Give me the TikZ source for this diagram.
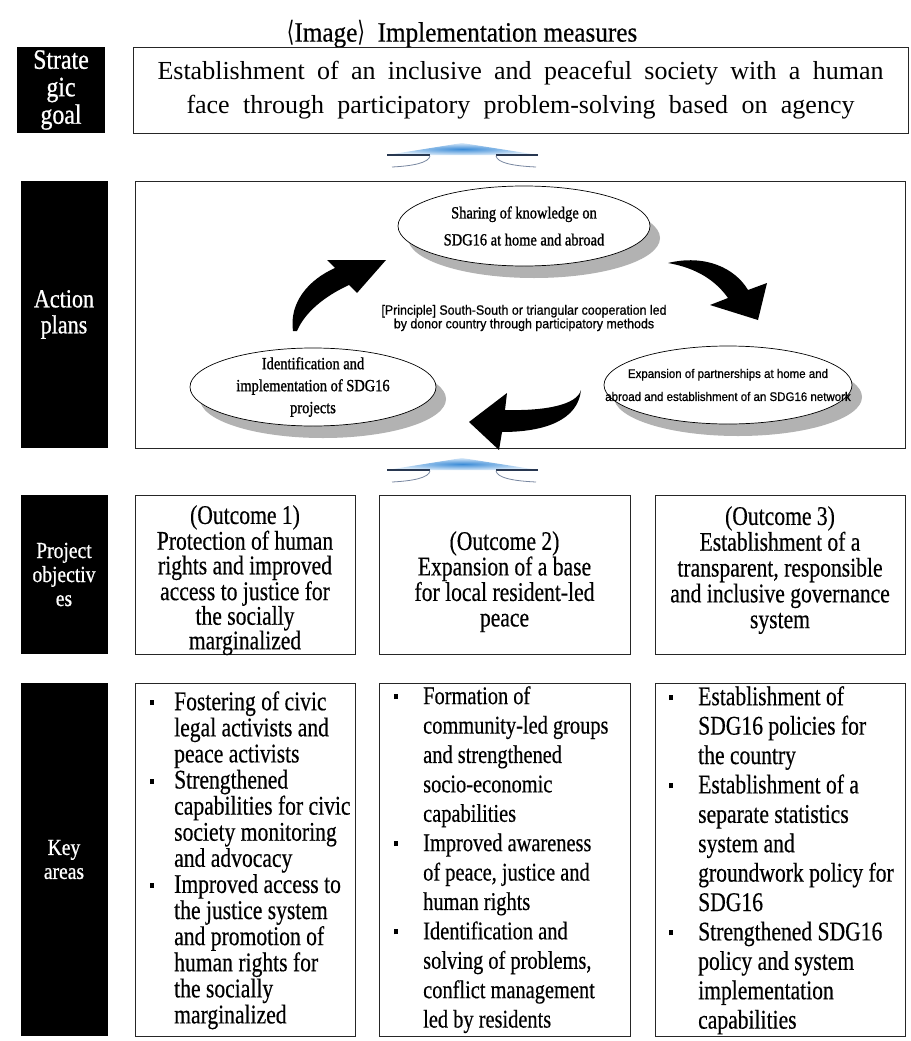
\documentclass[tikz,border=0pt]{standalone}
\usepackage{fontspec}
\setmainfont{Liberation Serif}
\newfontfamily\cond[FakeStretch=0.8,FakeBold=0.4]{Liberation Serif}
\newfontfamily\condt[FakeStretch=0.9,FakeBold=0.4]{Liberation Serif}
\newfontfamily\lblf[FakeStretch=0.85,FakeBold=0.8]{Liberation Serif}
\newfontfamily\condb[FakeStretch=0.85,FakeBold=1.2]{Liberation Serif}
\newfontfamily\sansb[FakeStretch=0.92,FakeBold=0.8]{Liberation Sans}
\newfontfamily\dvs[FakeStretch=0.7]{DejaVu Sans}
\usetikzlibrary{shapes.geometric}
\definecolor{cblue}{RGB}{60,140,215}
\definecolor{clight}{RGB}{215,232,248}
\definecolor{cdark}{RGB}{40,55,80}
\definecolor{ccurve}{RGB}{120,135,160}
\newcommand{\bul}{\makebox[24pt][l]{\rule[5pt]{4pt}{5pt}}}
\newcommand{\bulb}{\makebox[29pt][l]{\rule[5pt]{4pt}{5pt}}}
\newcommand{\indA}{\hspace*{24pt}}
\newcommand{\indB}{\hspace*{29pt}}
\begin{document}
\begin{tikzpicture}[x=1pt,y=-1pt,
  lbl/.style={fill=black,text=white,inner sep=0pt,align=center},
  frame/.style={draw=black!85,line width=0.9pt,fill=white,inner sep=0pt},
  ell/.style={ellipse,draw=black,line width=0.7pt,fill=white,inner sep=0pt},
  shad/.style={ellipse,fill=black!30,draw=none,inner sep=0pt},
  etxt/.style={inner sep=0pt,align=center},
  outc/.style={inner sep=0pt,align=center,anchor=north},
  keyt/.style={inner sep=0pt,align=left,anchor=north west,font=\cond\fontsize{27}{26.1}\selectfont},
  chev/.pic={
    \shade[inner color=cblue,outer color=clight] (0,0) -- (76,12) -- (-75,12) -- cycle;
    \draw[line width=1.8pt,cdark] (-75,12) -- (-32,12);
    \draw[line width=1.8pt,cdark] (34,12) -- (76,12);
    \draw[line width=0.8pt,ccurve] (-32,12.8) .. controls (-33,20) and (-50,23) .. (-70,24);
    \draw[line width=0.8pt,ccurve] (34,12.8) .. controls (35,20) and (52,23) .. (74,24);
  }]
\useasboundingbox[fill=white] (0,0) rectangle (910,1041);

% title
\node[inner sep=0pt,font=\condt\fontsize{28}{30}\selectfont] (title) at (462,34)
  {{\dvs ⟨}Image{\dvs ⟩}\ \ Implementation measures};

% left labels
\node[lbl,font=\lblf\fontsize{28}{27.5}\selectfont,minimum width=88pt,minimum height=86pt] (sg) at (61,90) {Strate\\gic\\goal};
\node[lbl,font=\lblf\fontsize{26}{26}\selectfont,minimum width=87pt,minimum height=267pt] (ap) at (64,314.5) {Action\\plans};
\node[lbl,font=\lblf\fontsize{23}{24}\selectfont,minimum width=87pt,minimum height=159pt] (po) at (64,574.5) {Project\\objectiv\\es};
\node[lbl,font=\lblf\fontsize{23}{24}\selectfont,minimum width=87pt,minimum height=353pt] (ka) at (64,859.5) {Key\\areas};

% strategic goal
\node[frame,minimum width=775pt,minimum height=86pt,align=center,font=\fontsize{26}{34}\selectfont] (goal) at (520.5,90)
  {\makebox[726pt][s]{Establishment of an inclusive and peaceful society with a human}\\
   \makebox[668pt][s]{face through participatory problem-solving based on agency}};

\pic at (462,143) {chev};

% action plans
\node[frame,minimum width=770pt,minimum height=267pt] (apf) at (520,314.5) {};

\node[shad,minimum width=252pt,minimum height=80pt] (s1) at (534,238) {};
\node[ell,minimum width=252pt,minimum height=80pt] (e1) at (524,226) {};
\node[etxt,font=\condb\fontsize{17}{27}\selectfont] (e1t) at (e1) {Sharing of knowledge on\\SDG16 at home and abroad};
\node[shad,minimum width=246pt,minimum height=78pt] (s2) at (323,399) {};
\node[ell,minimum width=246pt,minimum height=78pt] (e2) at (313,387) {};
\node[etxt,font=\condb\fontsize{17}{22}\selectfont] (e2t) at (e2) {Identification and\\implementation of SDG16\\projects};
\node[shad,minimum width=248pt,minimum height=78pt] (s3) at (738,397) {};
\node[ell,minimum width=248pt,minimum height=78pt] (e3) at (728,385) {};
\node[etxt,font=\sansb\fontsize{12.5}{23}\selectfont] (e3t) at (e3) {Expansion of partnerships at home and\\abroad and establishment of an SDG16 network};

\node[inner sep=0pt,align=center,font=\sansb\fontsize{13.5}{12.3}\selectfont] (pr) at (524,318)
  {[Principle] South-South or triangular cooperation led\\by donor country through participatory methods};

% curved arrows
\fill[black] (293,331) .. controls (289,303) and (308,280) .. (335,268) -- (327,260) -- (386,260) -- (357,293) -- (349,285) .. controls (325,296) and (305,312) .. (297,331) -- cycle;
\fill[black] (668,263) .. controls (705,254) and (735,268) .. (748,290) -- (767,283) -- (758,320) -- (710,305) -- (728,298) .. controls (716,281) and (697,268) .. (668,263) -- cycle;
\fill[black] (581,390) .. controls (577,405) and (545,411) .. (505,410) -- (507,393) -- (469,422) -- (499,450) -- (502,432) .. controls (545,432) and (578,420) .. (581,390) -- cycle;

\pic at (462,458) {chev};

% outcomes
\node[frame,minimum width=220pt,minimum height=159pt] (o1) at (245,574.5) {};
\node[frame,minimum width=251pt,minimum height=159pt] (o2) at (504.5,574.5) {};
\node[frame,minimum width=250pt,minimum height=159pt] (o3) at (780,574.5) {};
\node[outc,font=\cond\fontsize{27}{24.6}\selectfont] (t1) at (245,505) {(Outcome 1)\\Protection of human\\rights and improved\\access to justice for\\the socially\\marginalized};
\node[outc,font=\cond\fontsize{27}{25.5}\selectfont] (t2) at (504.5,531) {(Outcome 2)\\Expansion of a base\\for local resident-led\\peace};
\node[outc,font=\cond\fontsize{27}{25.8}\selectfont] (t3) at (780,506) {(Outcome 3)\\Establishment of a\\transparent, responsible\\and inclusive governance\\system};

% key areas
\node[frame,minimum width=220pt,minimum height=353pt] (k1) at (245,859.5) {};
\node[frame,minimum width=251pt,minimum height=353pt] (k2) at (504.5,859.5) {};
\node[frame,minimum width=250pt,minimum height=353pt] (k3) at (780,859.5) {};
\node[keyt] (kt1) at (150,691) {\bul Fostering of civic\\\indA legal activists and\\\indA peace activists\\
  \bul Strengthened\\\indA capabilities for civic\\\indA society monitoring\\\indA and advocacy\\
  \bul Improved access to\\\indA the justice system\\\indA and promotion of\\\indA human rights for\\\indA the socially\\\indA marginalized};
\node[keyt,font=\cond\fontsize{25.5}{29.4}\selectfont] (kt2) at (394,686) {\bulb Formation of\\\indB community-led groups\\\indB and strengthened\\\indB socio-economic\\\indB capabilities\\
  \bulb Improved awareness\\\indB of peace, justice and\\\indB human rights\\
  \bulb Identification and\\\indB solving of problems,\\\indB conflict management\\\indB led by residents};
\node[keyt,font=\cond\fontsize{27}{29.4}\selectfont] (kt3) at (669,686) {\bulb Establishment of\\\indB SDG16 policies for\\\indB the country\\
  \bulb Establishment of a\\\indB separate statistics\\\indB system and\\\indB groundwork policy for\\\indB SDG16\\
  \bulb Strengthened SDG16\\\indB policy and system\\\indB implementation\\\indB capabilities};
\end{tikzpicture}
\end{document}
